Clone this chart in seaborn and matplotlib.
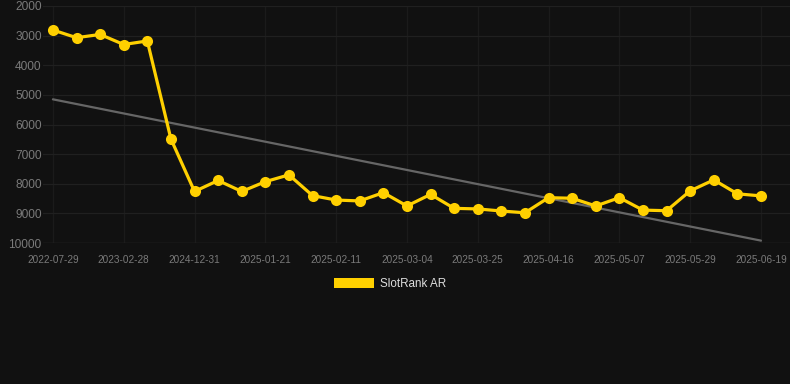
import matplotlib
matplotlib.use("Agg")
import matplotlib.pyplot as plt
from matplotlib.patches import Patch
import seaborn as sns
import pandas as pd

# rank values (lower is better, axis inverted)
rank = [2810, 3070, 2960, 3300, 3180, 6490, 8260, 7890, 8260, 7930,
        7700, 8400, 8550, 8580, 8300, 8750, 8360, 8830, 8850, 8920,
        8980, 8470, 8490, 8750, 8470, 8890, 8910, 8240, 7870, 8340, 8410]
tick_labels = ["2022-07-29", "2023-02-28", "2024-12-31", "2025-01-21", "2025-02-11",
               "2025-03-04", "2025-03-25", "2025-04-16", "2025-05-07", "2025-05-29",
               "2025-06-19"]
trend_start = 5150
trend_end = 9920

df = pd.DataFrame({"idx": range(len(rank)), "rank": rank})

bg = "#111111"
sns.set_style("dark", {"axes.facecolor": bg, "figure.facecolor": bg})
plt.rcParams["font.family"] = ["Liberation Sans", "DejaVu Sans"]

fig = plt.figure(figsize=(7.9, 3.84), dpi=100)
ax = fig.add_axes([43 / 790, 1 - 243 / 384, 1 - 43 / 790, (243 - 6) / 384])

ax.plot([0, len(rank) - 1], [trend_start, trend_end], color="#666666", lw=1.6, zorder=2)
sns.lineplot(data=df, x="idx", y="rank", ax=ax, color="#FFD000", lw=2.3,
             marker="o", markersize=8, markeredgewidth=0, zorder=3)

ax.set_ylim(10000, 2000)
ax.set_xlim(-0.42, len(rank) - 1 + 1.23)
ax.set_yticks(range(2000, 10001, 1000))
ax.set_xticks(range(0, len(rank), 3))
ax.set_xticklabels(tick_labels)
ax.tick_params(axis="y", colors="#7a7a7a", labelsize=8.6, length=0, pad=1)
ax.tick_params(axis="x", colors="#7a7a7a", labelsize=7.2, length=0, pad=8.5)
ax.grid(True, axis="y", color="#202020", lw=0.9)
ax.grid(True, axis="x", color="#1b1b1b", lw=0.9)
ax.axhline(10000, color="#2a2a2a", lw=1, zorder=1)
ax.set_xlabel("")
ax.set_ylabel("")
for s in ax.spines.values():
    s.set_visible(False)

fig.legend(handles=[Patch(facecolor="#FFD000", edgecolor="none", label="SlotRank AR")],
           loc="center", bbox_to_anchor=(0.494, 0.26), frameon=False,
           fontsize=8.4, labelcolor="#dddddd", handlelength=3.4, handleheight=1.0,
           handletextpad=0.5)

fig.savefig("out.png", dpi=100, facecolor=bg)
